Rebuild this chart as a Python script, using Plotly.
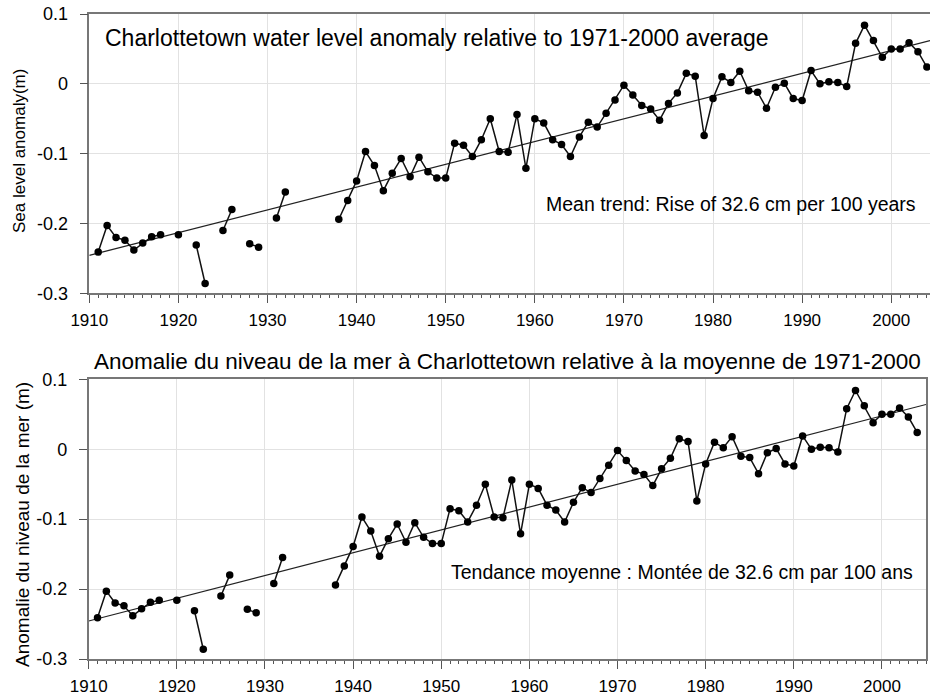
import plotly.graph_objects as go

# ---------------- data ----------------
years = list(range(1911, 2005))
# annual mean sea level anomaly (m) relative to 1971-2000; None = missing year
anomaly = [
    -0.241, -0.203, -0.220, -0.224, -0.238, -0.228, -0.219, -0.216, None, -0.216,   # 1911-1920
    None, -0.231, -0.286, None, -0.210, -0.180, None, -0.229, -0.234, None,          # 1921-1930
    -0.192, -0.155, None, None, None, None, None, -0.194, -0.167, -0.139,            # 1931-1940
    -0.097, -0.117, -0.153, -0.128, -0.107, -0.133, -0.105, -0.126, -0.135, -0.135,  # 1941-1950
    -0.085, -0.088, -0.104, -0.080, -0.050, -0.097, -0.098, -0.044, -0.121, -0.050,  # 1951-1960
    -0.056, -0.080, -0.087, -0.104, -0.076, -0.055, -0.062, -0.042, -0.023, -0.002,  # 1961-1970
    -0.016, -0.031, -0.036, -0.052, -0.028, -0.013, 0.015, 0.011, -0.074, -0.021,    # 1971-1980
    0.010, 0.002, 0.018, -0.010, -0.012, -0.035, -0.005, 0.001, -0.021, -0.024,      # 1981-1990
    0.019, 0.000, 0.003, 0.002, -0.004, 0.058, 0.084, 0.062, 0.038, 0.050,           # 1991-2000
    0.050, 0.059, 0.046, 0.024,                                                      # 2001-2004
]
trend_rate_cm_per_century = 32.6
trend_value_1910 = -0.2457

y_ticks = [0.1, 0, -0.1, -0.2, -0.3]
y_tick_labels = ["0.1", "0", "-0.1", "-0.2", "-0.3"]
x_ticks = list(range(1910, 2001, 10))

title_en = "Charlottetown water level anomaly relative to 1971-2000 average"
title_fr = "Anomalie du niveau de la mer à Charlottetown relative à la moyenne de 1971-2000"
trend_en = "Mean trend: Rise of 32.6 cm per 100 years"
trend_fr = "Tendance moyenne : Montée de 32.6 cm par 100 ans"
ylabel_en = "Sea level anomaly(m)"
ylabel_fr = "Anomalie du niveau de la mer (m)"

# ---------------- figure ----------------
W, H = 930, 696
FONT = "Liberation Sans, Arial, Helvetica, sans-serif"

top_range = [1910, 2004.35]
bot_range = [1910, 2005]


def trend(x0, x1):
    slope = trend_rate_cm_per_century / 100.0 / 100.0
    return [x0, x1], [trend_value_1910 + slope * (x0 - 1910), trend_value_1910 + slope * (x1 - 1910)]


fig = go.Figure()
for xa, ya, rng in (("x", "y", top_range), ("x2", "y2", bot_range)):
    tx, ty = trend(rng[0], rng[1])
    fig.add_trace(go.Scatter(x=tx, y=ty, mode="lines", xaxis=xa, yaxis=ya,
                             line=dict(color="#222", width=1.2), hoverinfo="skip",
                             showlegend=False, cliponaxis=False))
    fig.add_trace(go.Scatter(x=years, y=anomaly, mode="lines+markers", xaxis=xa, yaxis=ya,
                             line=dict(color="#111", width=1.5),
                             marker=dict(color="#000", size=7.5),
                             connectgaps=False, showlegend=False, cliponaxis=False))

common_x = dict(
    tickmode="array", tickvals=x_ticks, ticks="outside", ticklen=8, tickwidth=1,
    tickcolor="#555", showline=True, linecolor="#777", linewidth=1.5, mirror=True,
    showgrid=True, gridcolor="#e2e2e2", gridwidth=1, zeroline=False, automargin=False,
    tickfont=dict(family=FONT, size=17, color="#000"), ticklabelstandoff=3,
    minor=dict(dtick=1, tick0=1910, ticks="outside", ticklen=3, tickcolor="#555", showgrid=False),
)
common_y = dict(
    range=[-0.3, 0.1], tickmode="array", tickvals=y_ticks, ticktext=y_tick_labels,
    ticks="outside", ticklen=8, tickwidth=1, tickcolor="#555",
    showline=True, linecolor="#777", linewidth=1.5, mirror=True,
    showgrid=True, gridcolor="#e2e2e2", gridwidth=1, zeroline=False, automargin=False,
    tickfont=dict(family=FONT, size=18, color="#000"), ticklabelstandoff=8,
)

fig.update_layout(
    width=W, height=H, margin=dict(l=0, r=0, t=0, b=0, autoexpand=False),
    paper_bgcolor="white", plot_bgcolor="white",
    font=dict(family=FONT, color="#000"),
    xaxis=dict(common_x, range=top_range, domain=[89.3 / W, 1.0], anchor="y"),
    yaxis=dict(common_y, domain=[1 - 293.3 / H, 1 - 14 / H], anchor="x"),
    xaxis2=dict(common_x, range=bot_range, domain=[88.7 / W, 926 / W], anchor="y2"),
    yaxis2=dict(common_y, domain=[1 - 659 / H, 1 - 379.3 / H], anchor="x2"),
    annotations=[
        dict(text=title_en, xref="paper", yref="paper", x=103 / W, y=1 - 38 / H,
             xanchor="left", yanchor="middle", showarrow=False,
             font=dict(family=FONT, size=23, color="#000")),
        dict(text=trend_en, xref="paper", yref="paper", x=918 / W, y=1 - 204 / H,
             xanchor="right", yanchor="middle", showarrow=False,
             font=dict(family=FONT, size=19.5, color="#000")),
        dict(text=title_fr, xref="paper", yref="paper", x=507 / W, y=1 - 361 / H,
             xanchor="center", yanchor="middle", showarrow=False,
             font=dict(family=FONT, size=22.5, color="#000")),
        dict(text=trend_fr, xref="paper", yref="paper", x=915 / W, y=1 - 572 / H,
             xanchor="right", yanchor="middle", showarrow=False,
             font=dict(family=FONT, size=19.5, color="#000")),
        dict(text=ylabel_en, xref="paper", yref="paper", x=19 / W, y=1 - 151 / H,
             xanchor="center", yanchor="middle", textangle=-90, showarrow=False,
             font=dict(family=FONT, size=17, color="#000")),
        dict(text=ylabel_fr, xref="paper", yref="paper", x=22 / W, y=1 - 525 / H,
             xanchor="center", yanchor="middle", textangle=-90, showarrow=False,
             font=dict(family=FONT, size=19, color="#000")),
    ],
)

fig.write_html("out.html", config={"displayModeBar": False},
               post_script="document.body.style.margin='0';")
